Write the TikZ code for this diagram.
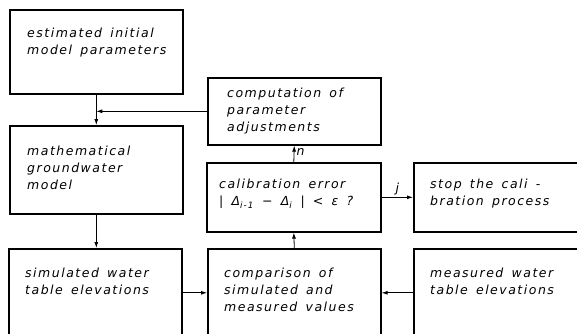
\documentclass[tikz,border=0pt]{standalone}
\usepackage{fontspec}
\setmainfont{DejaVu Sans}[LetterSpace=12, WordSpace=1.5]
\usetikzlibrary{positioning, calc, arrows.meta}

\begin{document}
\begin{tikzpicture}[
    x=1pt, y=-1pt,
    >={Latex[length=6pt,width=4pt]},
    box/.style={draw, rectangle, anchor=north west, inner sep=0pt, line width=1.6pt},
    txt/.style={anchor=north west, align=left, inner sep=0pt,
                font=\fontsize{12.5}{17}\selectfont\itshape},
    arrow/.style={->, line width=0.8pt},
    lbl/.style={font=\fontsize{12.5}{13}\selectfont\itshape, inner sep=2pt},
]
\path[use as bounding box] (0,0) rectangle (577,333);
\clip (0,0) rectangle (577,333);

\node[box, minimum width=173pt, minimum height=84pt] (est) at (9,9) {};
\node[box, minimum width=173pt, minimum height=88pt] (math) at (9,125) {};
\node[box, minimum width=173pt, minimum height=88pt] (sim) at (8,248) {};
\node[box, minimum width=173pt, minimum height=88pt] (cmp) at (207,248) {};
\node[box, minimum width=190pt, minimum height=88pt] (meas) at (413,248) {};
\node[box, minimum width=173pt, minimum height=67pt] (adj) at (207,77) {};
\node[box, minimum width=174pt, minimum height=69pt] (calib) at (206,162) {};
\node[box, minimum width=190pt, minimum height=69pt] (stop) at (413,162) {};

\node[txt] (estT) at ([shift={(18,19)}]est.north west) {estimated initial\\model parameters};
\node[txt] (mathT) at ([shift={(18,21)}]math.north west) {mathematical\\groundwater\\model};
\node[txt] (simT) at ([shift={(17,20)}]sim.north west) {simulated water\\table elevations};
\node[txt] (cmpT) at ([shift={(17,20)}]cmp.north west) {comparison of\\simulated and\\measured values};
\node[txt] (measT) at ([shift={(17,20)}]meas.north west) {measured water\\table elevations};
\node[txt] (adjT) at ([shift={(20,11)}]adj.north west) {computation of\\parameter\\adjustments};
\node[txt] (calibT) at ([shift={(13,17)}]calib.north west) {calibration error\\| Δ\textsubscript{i-1} − Δ\textsubscript{i} | < ε ?};
\node[txt] (stopT) at ([shift={(17,17)}]stop.north west) {stop the cali -\\bration process};

\coordinate (join) at (est.south |- adj.west);

\draw[arrow] (est.south) -- (math.north);
\draw[arrow] (adj.west) -- (join);
\draw[arrow] (math.south) -- (math.south |- sim.north);
\draw[arrow] (sim.east) -- (cmp.west);
\draw[arrow] (meas.west) -- (cmp.east);
\draw[arrow] (cmp.north) -- (calib.south);
\draw[arrow] (calib.north) -- (adj.south) node[lbl, pos=0.6, right] {n};
\draw[arrow] (calib.east) -- (stop.west) node[lbl, midway, above] {j};

\end{tikzpicture}
\end{document}
